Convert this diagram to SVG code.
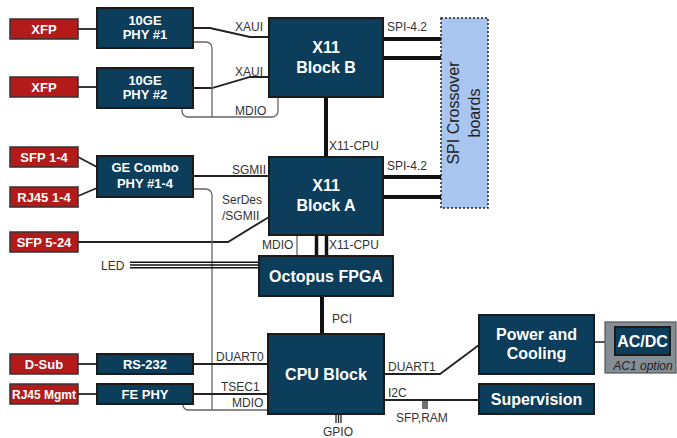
<svg xmlns="http://www.w3.org/2000/svg" width="677" height="438" viewBox="0 0 677 438">
<style>
.n{fill:#0c3d5a;stroke:#1b1b1b;stroke-width:2}
.r{fill:#b31b1b;stroke:#333;stroke-width:1.5}
.t{font-family:"Liberation Sans",Arial,sans-serif;font-weight:bold;fill:#fff;text-anchor:middle}
.s13{font-size:13px}
.s16{font-size:16px}
.l{font-family:"Liberation Sans",Arial,sans-serif;font-size:12px;fill:#333}
.w{fill:none;stroke:#222;stroke-width:1.8}
.m{fill:none;stroke:#666;stroke-width:1.3}
.b{fill:none;stroke:#111;stroke-width:4}
.k{fill:none;stroke:#222;stroke-width:1.3}
</style>
<rect width="677" height="438" fill="#fff"/>
<g id="connectors">
<path class="w" d="M78 29 H97"/>
<path class="w" d="M78 87 H97"/>
<path class="w" d="M193 28 H210 L250 37 H269"/>
<path class="w" d="M193 88 H212 L250 77 H269"/>
<path class="m" d="M193 42 H206 A6 6 0 0 1 212 48 V117"/>
<path class="m" d="M182 108 V111 A6 6 0 0 0 188 117 H272 A6 6 0 0 0 278 111 V97"/>
<path class="w" d="M78 157 L97 167"/>
<path class="w" d="M78 196 L97 188"/>
<path class="w" d="M193 176 H269"/>
<path class="w" d="M78 242 H228 L269 217"/>
<path class="m" d="M193 189 H206 A6 6 0 0 1 212 195 V410"/>
<path class="m" d="M183 404 V405 A5 5 0 0 0 188 410 H268"/>
<path class="w" d="M78 364 H97"/>
<path class="w" d="M193 364 H268"/>
<path class="w" d="M78 394 H97"/>
<path class="w" d="M193 394 H268"/>
<path fill="none" stroke="#111" stroke-width="1.5" d="M130 262.3 H259 M130 265 H259 M130 267.7 H259"/>
<path class="b" d="M326 97 V157"/>
<path class="b" d="M383 39 H441 M383 58 H441 M383 177 H441 M383 197 H441"/>
<path class="m" d="M297 235 V256"/>
<path class="b" style="stroke-width:3.5" d="M316.5 235 V256 M326.5 235 V256"/>
<path class="b" d="M322 296 V334"/>
<path class="w" d="M384 374 H440 L479 345"/>
<path class="w" d="M384 400 H479"/>
<path class="k" d="M423 400 V409 M425 400 V409 M427 400 V409"/>
<path class="k" d="M336 414 V423 M338.5 414 V423 M341 414 V423"/>
<path fill="none" stroke="#555" stroke-width="2" d="M594 342 H615"/>
<text class="l" x="235" y="31">XAUI</text>
<text class="l" x="235" y="76">XAUI</text>
<text class="l" x="235" y="115">MDIO</text>
<text class="l" x="329" y="150">X11-CPU</text>
<text class="l" x="387" y="31">SPI-4.2</text>
<text class="l" x="387" y="170">SPI-4.2</text>
<text class="l" x="232" y="174">SGMII</text>
<text class="l" x="222" y="204">SerDes</text>
<text class="l" x="222" y="220">/SGMII</text>
<text class="l" x="262" y="249">MDIO</text>
<text class="l" x="329" y="249">X11-CPU</text>
<text class="l" x="101" y="270">LED</text>
<text class="l" x="332" y="323">PCI</text>
<text class="l" x="216" y="361">DUART0</text>
<text class="l" x="221" y="391">TSEC1</text>
<text class="l" x="232" y="407">MDIO</text>
<text class="l" x="323" y="436">GPIO</text>
<text class="l" x="388" y="371">DUART1</text>
<text class="l" x="388" y="397">I2C</text>
<text class="l" x="396" y="422">SFP,RAM</text>
</g>
<g id="xfp1"><rect class="r" x="10" y="19" width="68" height="20"/><text class="t s13" x="44" y="33.5">XFP</text></g>
<g id="xfp2"><rect class="r" x="10" y="77" width="68" height="20"/><text class="t s13" x="44" y="91.5">XFP</text></g>
<g id="phy1"><rect class="n" x="97" y="8" width="96" height="40"/><text class="t s13" x="145" y="24.5">10GE</text><text class="t s13" x="145" y="39">PHY #1</text></g>
<g id="phy2"><rect class="n" x="97" y="68" width="96" height="40"/><text class="t s13" x="145" y="84.5">10GE</text><text class="t s13" x="145" y="99">PHY #2</text></g>
<g id="blockB"><rect class="n" x="269" y="18" width="114" height="79"/><text class="t s16" x="326" y="53">X11</text><text class="t s16" x="326" y="73">Block B</text></g>
<g id="spi"><rect x="441" y="18" width="47" height="190" fill="#a9c6f0" stroke="#222" stroke-width="1.5" stroke-dasharray="2 2"/><text font-family="Liberation Sans, Arial, sans-serif" font-size="16" fill="#222" text-anchor="middle" transform="translate(459,113) rotate(-90)">SPI Crossover</text><text font-family="Liberation Sans, Arial, sans-serif" font-size="16" fill="#222" text-anchor="middle" transform="translate(480,113) rotate(-90)">boards</text></g>
<g id="sfp14"><rect class="r" x="10" y="147" width="68" height="20"/><text class="t s13" x="44" y="161.5">SFP 1-4</text></g>
<g id="rj4514"><rect class="r" x="10" y="187" width="68" height="20"/><text class="t s13" x="44" y="201.5">RJ45 1-4</text></g>
<g id="gecombo"><rect class="n" x="97" y="156" width="96" height="41"/><text class="t s13" x="145" y="172">GE Combo</text><text class="t s13" x="145" y="188">PHY #1-4</text></g>
<g id="sfp524"><rect class="r" x="10" y="232" width="68" height="20"/><text class="t s13" x="44" y="246.5">SFP 5-24</text></g>
<g id="blockA"><rect class="n" x="269" y="157" width="114" height="78"/><text class="t s16" x="326" y="191">X11</text><text class="t s16" x="326" y="211">Block A</text></g>
<g id="octopus"><rect class="n" x="259" y="256" width="134" height="40"/><text class="t s16" x="326" y="281.5">Octopus FPGA</text></g>
<g id="cpu"><rect class="n" x="268" y="334" width="116" height="80"/><text class="t s16" x="326" y="380">CPU Block</text></g>
<g id="dsub"><rect class="r" x="10" y="354" width="68" height="20"/><text class="t s13" x="44" y="368.5">D-Sub</text></g>
<g id="rs232"><rect class="n" x="97" y="354" width="96" height="20"/><text class="t s13" x="145" y="368.5">RS-232</text></g>
<g id="rj45mgmt"><rect class="r" x="10" y="384" width="68" height="20"/><text class="t" font-size="12" x="44" y="398.5">RJ45 Mgmt</text></g>
<g id="fephy"><rect class="n" x="97" y="384" width="96" height="20"/><text class="t s13" x="145" y="398.5">FE PHY</text></g>
<g id="power"><rect class="n" x="479" y="315" width="115" height="59"/><text class="t s16" x="536.5" y="340">Power and</text><text class="t s16" x="536.5" y="359">Cooling</text></g>
<g id="supervision"><rect class="n" x="479" y="384" width="115" height="30"/><text class="t s16" x="536.5" y="404.5">Supervision</text></g>
<g id="acdc"><rect x="605" y="322" width="71" height="51" fill="#858e94" stroke="#555" stroke-width="1.2"/><rect class="n" x="615" y="327" width="55" height="28"/><text class="t s16" x="642.5" y="347">AC/DC</text><text font-family="Liberation Sans, Arial, sans-serif" font-size="12" font-style="italic" fill="#222" x="643" y="370" text-anchor="middle">AC1 option</text></g>
</svg>
